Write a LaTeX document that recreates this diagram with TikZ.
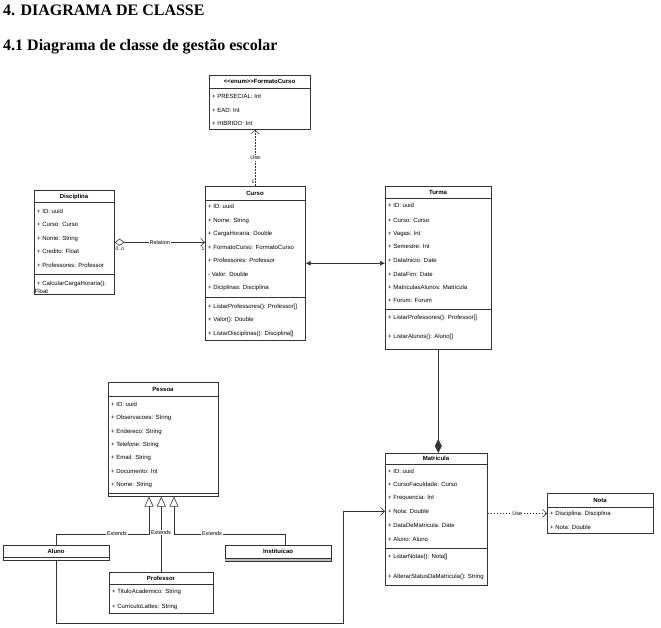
\documentclass[tikz,border=0pt]{standalone}
\usepackage{fontspec}
\setmainfont{Liberation Sans}
\newfontfamily\headfont{Liberation Serif}
\usetikzlibrary{arrows.meta}
\tikzset{
  cls/.style={draw=black!80, line width=0.6pt, fill=white, inner sep=0pt, anchor=north west},
  sepline/.style={draw=black!80, line width=0.6pt},
  ttl/.style={font=\fontsize{6}{7}\selectfont\bfseries, inner sep=0pt, anchor=base},
  attr/.style={font=\fontsize{6}{7}\selectfont, inner sep=0pt, anchor=base west},
  lbl/.style={font=\fontsize{5.5}{6}\selectfont, inner sep=0.8pt, fill=white},
  small/.style={font=\fontsize{5}{6}\selectfont, inner sep=0.5pt},
  conn/.style={draw=black!80, line width=0.6pt},
  head/.style={font=\headfont\bfseries\fontsize{16}{18}\selectfont, inner sep=0pt, anchor=base west},
  openarr/.style={-{Straight Barb[length=4pt,width=8pt]}},
  gen/.style={-{Triangle[open,length=10pt,width=9pt,fill=white]}},
}
% \umlbox{name}{x}{y}{w}{h}
\newcommand\umlbox[5]{\node[cls, minimum width=#4pt, minimum height=#5pt] (#1) at (#2,#3) {};}
% \hsep{x1}{x2}{y}
\newcommand\hsep[3]{\draw[sepline] (#1,#3) -- (#2,#3);}
% \arow{name}{x}{ycenter}{text}
\newcommand\arow[4]{\node[attr] (#1) at (#2,#3+2.2) {#4};}
\newcommand\ttlrow[4]{\node[ttl] (#1) at (#2,#3+2.2) {#4};}
\begin{document}
\begin{tikzpicture}[x=1pt,y=-1pt]
\useasboundingbox (0,0) rectangle (661,628);
\fill[white] (0,0) rectangle (661,628);

% headings
\node[head] (h1) at (3,15.5) {4. DIAGRAMA DE CLASSE};
\node[head] (h2) at (3,51) {4.1 Diagrama de classe de gestão escolar};

% FormatoCurso
\umlbox{fmt}{209}{75}{101}{54}
\hsep{209}{310}{88}
\ttlrow{fmtT}{259.5}{81.5}{{<}{<}enum{>}{>}FormatoCurso}
\arow{fmt1}{212}{96}{+ PRESECIAL: Int}
\arow{fmt2}{212}{110}{+ EAD: Int}
\arow{fmt3}{212}{123}{+ HIBRIDO: Int}

% Curso
\umlbox{curso}{205}{186}{100}{154}
\hsep{205}{305}{200}
\hsep{205}{305}{297}
\ttlrow{cursoT}{255}{193}{Curso}
\arow{cu1}{208}{206.5}{+ ID: uuid}
\arow{cu2}{208}{220}{+ Nome: String}
\arow{cu3}{208}{233.5}{+ CargaHoraria: Double}
\arow{cu4}{208}{247}{+ FormatoCurso: FormatoCurso}
\arow{cu5}{208}{260.5}{+ Professores: Professor}
\arow{cu6}{208}{274}{- Valor: Double}
\arow{cu7}{208}{287.5}{+ Diciplinas: Disciplina}
\arow{cu8}{208}{306}{+ ListarProfessores(): Professor[]}
\arow{cu9}{208}{319}{+ Valor(): Double}
\arow{cu10}{208}{333}{+ ListarDisciplinas(): Disciplina[]}

% Disciplina
\umlbox{disc}{34}{190}{80}{104}
\hsep{34}{114}{202}
\hsep{34}{114}{274}
\ttlrow{discT}{74}{196}{Disciplina}
\arow{di1}{37}{211.5}{+ ID: uuid}
\arow{di2}{37}{224.5}{+ Curso: Curso}
\arow{di3}{37}{238}{+ Nome: String}
\arow{di4}{37}{251}{+ Credito: Float}
\arow{di5}{37}{265}{+ Professores: Professor}
\arow{di6}{37}{283}{+ CalcularCargaHoraria():}
\arow{di7}{34.5}{291}{Float}

% Turma
\umlbox{turma}{385}{186}{106}{163}
\hsep{385}{491}{198}
\hsep{385}{491}{309}
\ttlrow{turmaT}{438}{192.5}{Turma}
\arow{tu1}{388}{205.5}{+ ID: uuid}
\arow{tu2}{388}{220}{+ Curso: Curso}
\arow{tu3}{388}{233.3}{+ Vagas: Int}
\arow{tu4}{388}{246.7}{+ Semestre: Int}
\arow{tu5}{388}{260.5}{+ DataInicio: Date}
\arow{tu6}{388}{274}{+ DataFim: Date}
\arow{tu7}{388}{287.3}{+ MatriculasAlunos: Matricula}
\arow{tu8}{388}{300.7}{+ Forum: Forum}
\arow{tu9}{388}{317}{+ ListarProfessores(): Professor[]}
\arow{tu10}{388}{336.5}{+ ListarAlunos(): Aluno[]}

% Pessoa
\umlbox{pessoa}{108}{382}{110}{114}
\hsep{108}{218}{396}
\hsep{108}{218}{493}
\ttlrow{pessoaT}{163}{389}{Pessoa}
\arow{pe1}{111}{404.3}{+ ID: uuid}
\arow{pe2}{111}{417.7}{+ Observacoes: String}
\arow{pe3}{111}{431}{+ Endereco: String}
\arow{pe4}{111}{444.3}{+ Telefone: String}
\arow{pe5}{111}{457.7}{+ Email: String}
\arow{pe6}{111}{471}{+ Documento: Int}
\arow{pe7}{111}{484.3}{+ Nome: String}

% Aluno
\umlbox{aluno}{3}{545}{106}{15}
\hsep{3}{109}{557.5}
\ttlrow{alunoT}{56}{551}{Aluno}

% Instituicao
\umlbox{inst}{225}{545}{106}{16}
\fill[black!25] (225,557.8) rectangle (331,561);
\hsep{225}{331}{557.8}
\ttlrow{instT}{278}{551}{Instituicao}

% Professor
\umlbox{prof}{109}{572}{104}{41}
\hsep{109}{213}{584}
\ttlrow{profT}{161}{578}{Professor}
\arow{pr1}{112}{591.7}{+ TituloAcademico: String}
\arow{pr2}{112}{606}{+ CurriculoLattes: String}

% Matricula
\umlbox{matr}{385}{453}{102}{132}
\hsep{385}{487}{464}
\hsep{385}{487}{548.3}
\ttlrow{matrT}{436}{458.5}{Matricula}
\arow{ma1}{388}{471.5}{+ ID: uuid}
\arow{ma2}{388}{484.5}{+ CursoFaculdade: Curso}
\arow{ma3}{388}{497.7}{+ Frequencia: Int}
\arow{ma4}{388}{511}{+ Nota: Double}
\arow{ma5}{388}{525}{+ DataDeMatricula: Date}
\arow{ma6}{388}{539}{+ Aluno: Aluno}
\arow{ma7}{388}{556.7}{+ ListarNotas(): Nota[]}
\arow{ma8}{388}{576}{+ AlterarStatusDaMatricula(): String}

% Nota
\umlbox{nota}{547}{493}{106}{40}
\hsep{547}{653}{507}
\ttlrow{notaT}{600}{500}{Nota}
\arow{no1}{550}{513.3}{+ Disciplina: Disciplina}
\arow{no2}{550}{527.3}{+ Nota: Double}

% ---------- connectors ----------
% Curso uses FormatoCurso
\draw[conn, dashed, dash pattern=on 1.5pt off 1.5pt, openarr] (curso.north) -- (curso.north |- fmt.south)
  node[lbl, pos=0.5] (useA) {Use};
\node[small] (one1) at (253,182) {1};

% Disciplina -- Curso relation
\draw[conn, {Diamond[open,length=10pt,width=7pt,fill=white]}-{Straight Barb[length=4pt,width=8pt]}]
  (disc.east) -- (disc.east -| curso.west) node[lbl, pos=0.5] (relL) {Relation};
\node[small, anchor=north west] (mult0) at (115,246) {0..n};
\node[small, anchor=north east] (mult1) at (205,246) {1};

% Curso <-> Turma
\draw[conn, {Latex[length=5pt,width=5pt]}-{Latex[length=5pt,width=5pt]}]
  (curso.east) -- (curso.east -| turma.west);

% Turma composition Matricula
\draw[conn, -{Diamond[length=14pt,width=7pt]}] (turma.south) -- (turma.south |- matr.north);

% Matricula uses Nota
\draw[conn, dashed, dash pattern=on 1.5pt off 1.5pt, openarr] (matr.east |- nota.west) -- (nota.west)
  node[lbl, pos=0.5] (useB) {Use};

% Generalizations
\coordinate (g1) at (149,534);
\coordinate (g3) at (174,534);
\draw[conn, gen] (aluno.north) |- (g1) -- (g1 |- pessoa.south);
\node[lbl] (ext1) at (117,534) {Extends};
\draw[conn, gen] (prof.north) -- (prof.north |- pessoa.south);
\node[lbl] (ext2) at (161,532.5) {Extends};
\draw[conn, gen] ([xshift=7pt]inst.north) |- (g3) -- (g3 |- pessoa.south);
\node[lbl] (ext3) at (212,534) {Extends};

% Aluno -> Matricula
\coordinate (k1) at (343,623);
\draw[conn, openarr] (aluno.south) |- (k1) |- ([yshift=8pt]matr.west);
\end{tikzpicture}
\end{document}
